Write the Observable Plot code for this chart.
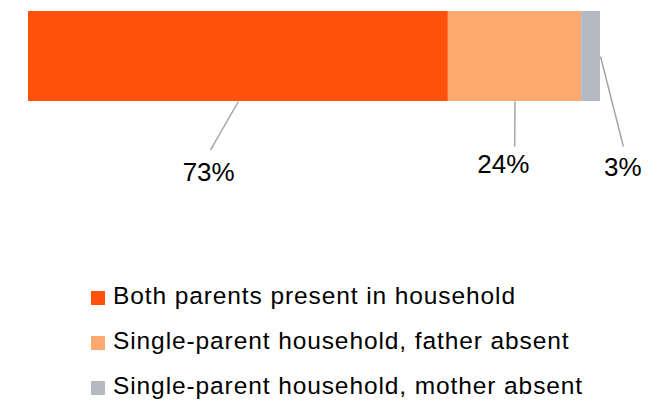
<!DOCTYPE html>
<html>
<head>
<meta charset="utf-8">
<script src="https://cdn.jsdelivr.net/npm/d3@7"></script>
<script src="https://cdn.jsdelivr.net/npm/@observablehq/plot@0.6"></script>
<style>
  body { margin: 0; background: #fff; font-family: "Liberation Sans", Arial, sans-serif; }
  #wrap { position: relative; width: 662px; height: 402px; overflow: hidden; background: #fff; }
  #chart { position: absolute; left: 0; top: 0; }
  .lg-row { position: absolute; left: 91px; height: 28px; white-space: nowrap; }
  .lg-sw { position: absolute; left: 0; top: 7px; width: 14px; height: 14px; }
  .lg-tx { position: absolute; left: 22px; top: 0; font-size: 24.5px; line-height: 24px; color: #000; letter-spacing: 0.9px; }
</style>
</head>
<body>
<div id="wrap"><div id="chart"></div><div id="legend"></div></div>
<script>
// ---- data ----
const categories = [
  "Both parents present in household",
  "Single-parent household, father absent",
  "Single-parent household, mother absent"
];
const shares = [73.4, 23.3, 3.3];          // bar lengths (%)
const shareLabels = ["73%", "24%", "3%"];  // printed labels

// ---- style / layout (not data) ----
const colors = ["#FE520A", "#FFA970", "#B3BAC2"];
// leader-line anchors: "mid" = bottom centre of segment, "end" = right edge, mid-height
const leaderLayout = [
  { from: "mid", ex: 31.8, ey: 1.54, tx: 31.5, ty: 1.88 },
  { from: "mid", ex: 85.0, ey: 1.50, tx: 83.0, ty: 1.79 },
  { from: "end", ex: 104.0, ey: 1.50, tx: 103.9, ty: 1.83 }
];

// stacked segments
let acc = 0;
const segs = categories.map((c, i) => {
  const s = { cat: c, x1: acc, x2: acc + shares[i], label: shareLabels[i] };
  acc += shares[i];
  return s;
});
const leaders = segs.map((s, i) => {
  const L = leaderLayout[i];
  return {
    x1: L.from === "mid" ? (s.x1 + s.x2) / 2 : s.x2,
    y1: L.from === "mid" ? 1 : 0.5,
    x2: L.ex, y2: L.ey,
    tx: L.tx, ty: L.ty, label: s.label
  };
});

const plot = Plot.plot({
  width: 662,
  height: 200,
  margin: 0,
  style: { fontFamily: "'Liberation Sans', Arial, sans-serif", background: "#fff", overflow: "visible" },
  x: { domain: [0, 100], range: [28, 600], axis: null },
  y: { domain: [0, 2], range: [11, 191], axis: null },
  color: { domain: categories, range: colors },
  marks: [
    Plot.rectX(segs, { x1: "x1", x2: "x2", y1: 0, y2: 1, fill: "cat" }),
    Plot.link(leaders, { x1: "x1", y1: "y1", x2: "x2", y2: "y2", stroke: "#A6A6A6", strokeWidth: 1.5 }),
    Plot.text(leaders, { x: "tx", y: "ty", text: "label", fontSize: 26, textAnchor: "middle", lineAnchor: "bottom", fill: "#000" })
  ]
});
document.getElementById("chart").appendChild(plot);

// legend built from the same color scale
const scale = plot.scale("color");
const legend = d3.select("#legend");
categories.forEach((c, i) => {
  const row = legend.append("div").attr("class", "lg-row").style("top", (284 + i * 45.2) + "px");
  row.append("div").attr("class", "lg-sw").style("background", scale.apply(c));
  row.append("div").attr("class", "lg-tx").text(c);
});
</script>
</body>
</html>
